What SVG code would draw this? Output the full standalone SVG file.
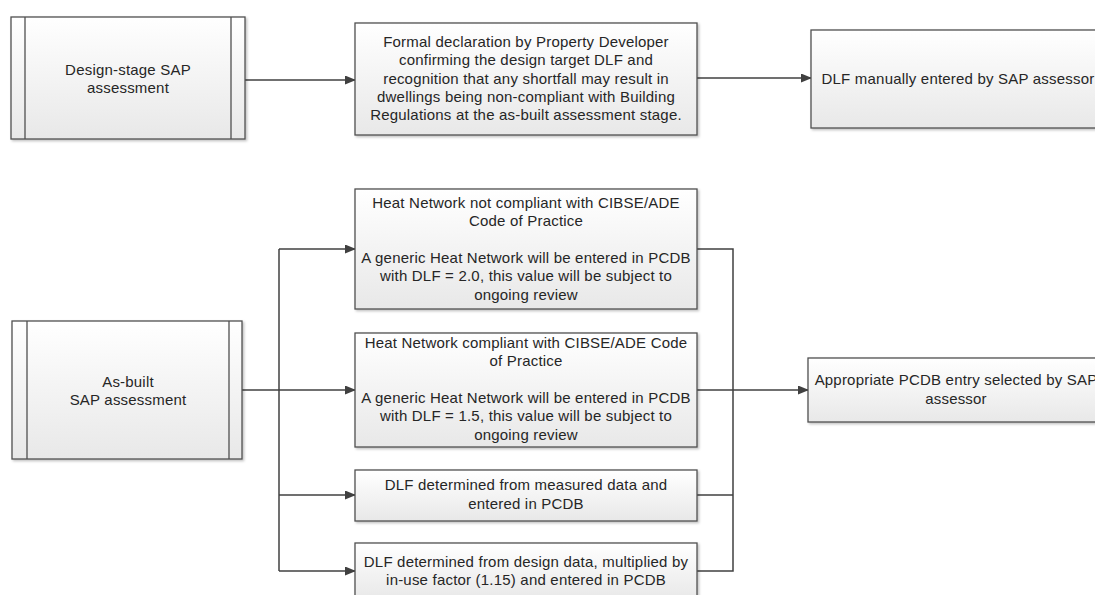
<svg xmlns="http://www.w3.org/2000/svg" width="1095" height="595" viewBox="0 0 1095 595">
<style>
.box{fill:url(#g);stroke:#505050;stroke-width:1.3;filter:url(#sh)}
.in{stroke:#505050;stroke-width:1.3;fill:none}
.c{fill:none;stroke:#404040;stroke-width:1.5}
text{font-family:"Liberation Sans",Arial,sans-serif;font-size:15px;fill:#262626;text-anchor:middle;letter-spacing:0.2px}
</style>
<defs>
<linearGradient id="g" x1="0" y1="0" x2="0" y2="1">
<stop offset="0" stop-color="#ffffff"/>
<stop offset="1" stop-color="#e8e8e8"/>
</linearGradient>
<filter id="sh" x="-5%" y="-5%" width="115%" height="120%">
<feDropShadow dx="1.5" dy="1.5" stdDeviation="1" flood-color="#000" flood-opacity="0.25"/>
</filter>
<marker id="ar" markerUnits="userSpaceOnUse" markerWidth="11" markerHeight="9" refX="10" refY="4.5" orient="auto">
<path d="M0,0 L11,4.5 L0,9 z" fill="#404040"/>
</marker>
</defs>

<g id="connectors">
<path class="c" d="M245,80 H355" marker-end="url(#ar)"/>
<path class="c" d="M697,78 H811" marker-end="url(#ar)"/>
<path class="c" d="M242,390 H279"/>
<path class="c" d="M279,249 V571"/>
<path class="c" d="M279,249 H355" marker-end="url(#ar)"/>
<path class="c" d="M279,390 H355" marker-end="url(#ar)"/>
<path class="c" d="M279,495 H355" marker-end="url(#ar)"/>
<path class="c" d="M279,571 H355" marker-end="url(#ar)"/>
<path class="c" d="M697,249 H733 V571 H697"/>
<path class="c" d="M697,495 H733"/>
<path class="c" d="M697,390 H808" marker-end="url(#ar)"/>
</g>

<g id="design-stage">
<rect class="box" x="11" y="17" width="234" height="122"/>
<path class="in" d="M25,17 V139 M231,17 V139"/>
<text x="128" y="75">Design-stage SAP<tspan x="128" dy="18.3">assessment</tspan></text>
</g>

<g id="formal-declaration">
<rect class="box" x="355" y="23" width="342" height="112"/>
<text x="526" y="47">Formal declaration by Property Developer<tspan x="526" dy="18.3">confirming the design target DLF and</tspan><tspan x="526" dy="18.3">recognition that any shortfall may result in</tspan><tspan x="526" dy="18.3">dwellings being non-compliant with Building</tspan><tspan x="526" dy="18.3">Regulations at the as-built assessment stage.</tspan></text>
</g>

<g id="dlf-manual">
<rect class="box" x="811" y="30" width="294" height="98"/>
<text x="958" y="84">DLF manually entered by SAP assessor</text>
</g>

<g id="as-built">
<rect class="box" x="12" y="321" width="230" height="138"/>
<path class="in" d="M27,321 V459 M229,321 V459"/>
<text x="128" y="387">As-built<tspan x="128" dy="18.3">SAP assessment</tspan></text>
</g>

<g id="hn-not-compliant">
<rect class="box" x="355" y="189" width="342" height="120"/>
<text x="526" y="208">Heat Network not compliant with CIBSE/ADE<tspan x="526" dy="18.3">Code of Practice</tspan><tspan x="526" dy="36.6">A generic Heat Network will be entered in PCDB</tspan><tspan x="526" dy="18.3">with DLF = 2.0, this value will be subject to</tspan><tspan x="526" dy="18.3">ongoing review</tspan></text>
</g>

<g id="hn-compliant">
<rect class="box" x="355" y="333" width="342" height="114"/>
<text x="526" y="348">Heat Network compliant with CIBSE/ADE Code<tspan x="526" dy="18.3">of Practice</tspan><tspan x="526" dy="36.6">A generic Heat Network will be entered in PCDB</tspan><tspan x="526" dy="18.3">with DLF = 1.5, this value will be subject to</tspan><tspan x="526" dy="18.3">ongoing review</tspan></text>
</g>

<g id="measured-data">
<rect class="box" x="355" y="470" width="342" height="51"/>
<text x="526" y="490">DLF determined from measured data and<tspan x="526" dy="19">entered in PCDB</tspan></text>
</g>

<g id="design-data">
<rect class="box" x="355" y="543" width="342" height="57"/>
<text x="526" y="567">DLF determined from design data, multiplied by<tspan x="526" dy="18.3">in-use factor (1.15) and entered in PCDB</tspan></text>
</g>

<g id="pcdb-entry">
<rect class="box" x="808" y="358" width="296" height="64"/>
<text x="956" y="385">Appropriate PCDB entry selected by SAP<tspan x="956" dy="19">assessor</tspan></text>
</g>
</svg>
